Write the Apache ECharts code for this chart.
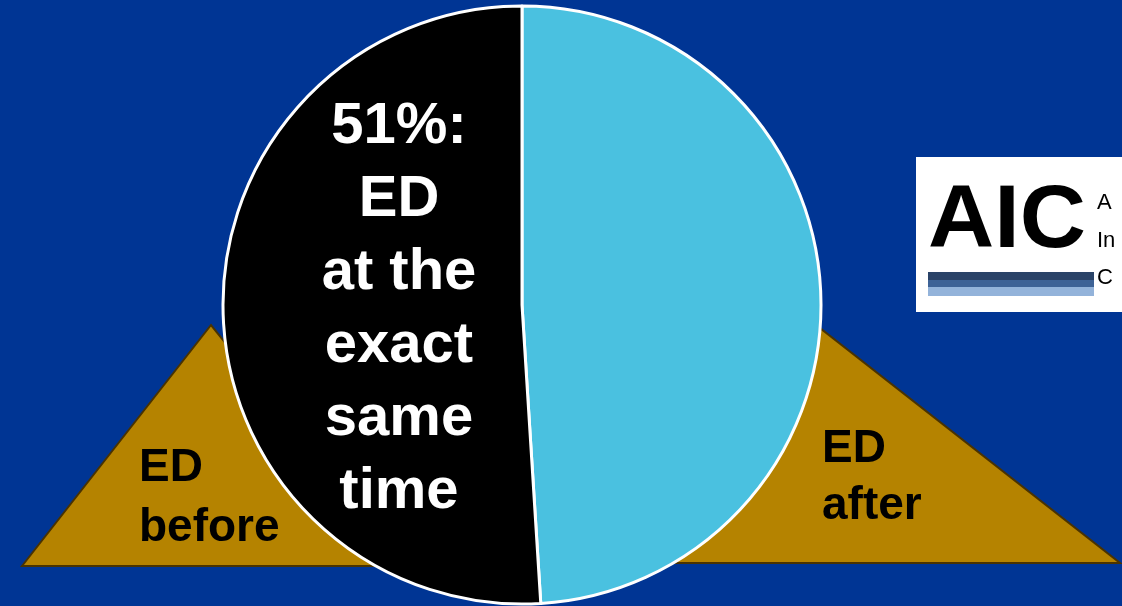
<!DOCTYPE html>
<html>
<head>
<meta charset="utf-8">
<script src="https://cdn.jsdelivr.net/npm/echarts@6/dist/echarts.min.js"></script>
<style>
html,body{margin:0;padding:0;background:#003594;}
#c{width:1122px;height:606px;}
</style>
</head>
<body>
<div id="c"></div>
<script>
// Data
const categories = ['ED at another time', 'ED at the exact same time'];
const values = [49, 51];
const sliceColors = ['#4AC1E0', '#000000'];
const sideLabels = ['ED\nbefore', 'ED\nafter'];
const centerLabelWords = 'ED\nat the\nexact\nsame\ntime';

const chart = echarts.init(document.getElementById('c'), null, {renderer: 'canvas'});
const gold = '#B58300';
const goldStroke = '#4A3300';
const FONT = 'Liberation Sans, Arial, sans-serif';

const option = {
  backgroundColor: '#003594',
  animation: false,
  graphic: [
    // background triangles
    {type: 'polygon', z: 0, shape: {points: [[22, 566], [211, 325], [405, 566]]},
     style: {fill: gold, stroke: goldStroke, lineWidth: 2}},
    {type: 'polygon', z: 0, shape: {points: [[640, 563], [816, 325], [1120, 563]]},
     style: {fill: gold, stroke: goldStroke, lineWidth: 2}},
    // logo
    {type: 'rect', z: 0, shape: {x: 916, y: 157, width: 220, height: 155}, style: {fill: '#ffffff'}},
    {type: 'rect', z: 1, shape: {x: 928, y: 272, width: 166, height: 8}, style: {fill: '#2A4368'}},
    {type: 'rect', z: 1, shape: {x: 928, y: 280, width: 166, height: 7}, style: {fill: '#3D6296'}},
    {type: 'rect', z: 1, shape: {x: 928, y: 287, width: 166, height: 9}, style: {fill: '#93B3DA'}},
    {type: 'text', z: 2, x: 928, y: 267, scaleX: 1.03,
     style: {text: 'AIC', font: 'bold 89px ' + FONT, fill: '#000', textAlign: 'left', textVerticalAlign: 'bottom'}},
    {type: 'text', z: 2, x: 1097, y: 214,
     style: {text: 'A', font: '22px ' + FONT, fill: '#000', textVerticalAlign: 'bottom'}},
    {type: 'text', z: 2, x: 1097, y: 252,
     style: {text: 'In', font: '22px ' + FONT, fill: '#000', textVerticalAlign: 'bottom'}},
    {type: 'text', z: 2, x: 1097, y: 289,
     style: {text: 'C', font: '22px ' + FONT, fill: '#000', textVerticalAlign: 'bottom'}},
    // labels
    {type: 'text', z: 100, x: 139, y: 498,
     style: {text: sideLabels[0], font: 'bold 46px ' + FONT, lineHeight: 60, fill: '#000',
             textAlign: 'left', textVerticalAlign: 'middle'}},
    {type: 'text', z: 100, x: 822, y: 478,
     style: {text: sideLabels[1], font: 'bold 46px ' + FONT, lineHeight: 57, fill: '#000',
             textAlign: 'left', textVerticalAlign: 'middle'}},
    {type: 'text', z: 100, x: 399, y: 309,
     style: {text: values[1] + '%:\n' + centerLabelWords, font: 'bold 58px ' + FONT, lineHeight: 73,
             fill: '#fff', textAlign: 'center', textVerticalAlign: 'middle'}}
  ],
  series: [{
    type: 'pie',
    z: 10,
    center: [522, 305],
    radius: [0, 299],
    startAngle: 90,
    clockwise: true,
    label: {show: false},
    labelLine: {show: false},
    emphasis: {disabled: true},
    itemStyle: {borderColor: '#ffffff', borderWidth: 3},
    data: categories.map((c, i) => ({name: c, value: values[i], itemStyle: {color: sliceColors[i]}}))
  }]
};
chart.setOption(option);
</script>
</body>
</html>
